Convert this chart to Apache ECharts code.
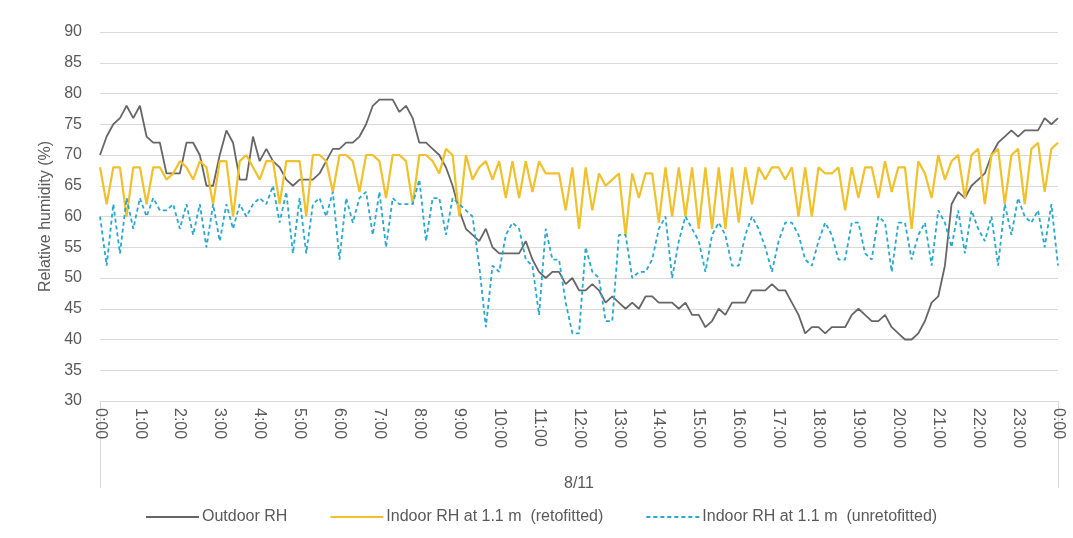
<!DOCTYPE html>
<html>
<head>
<meta charset="utf-8">
<script src="https://cdn.jsdelivr.net/npm/echarts@6/dist/echarts.min.js"></script>
<style>
  html, body { margin: 0; padding: 0; background: #ffffff; }
  #chart { width: 1073px; height: 538px; }
</style>
</head>
<body>
<div id="chart"></div>
<script>
// Relative humidity on 8/11, logged every 10 minutes (0:00 to 24:00)
const dayLabel = '8/11';
const seriesNames = ['Outdoor RH', 'Indoor RH at 1.1 m  (retofitted)', 'Indoor RH at 1.1 m  (unretofitted)'];

const outdoorRH = [
  70, 73, 75, 76, 78, 76, 78, 73, 72, 72,
  67, 67, 67, 72, 72, 70, 65, 65, 70, 74,
  72, 66, 66, 73, 69, 71, 69, 68, 66, 65,
  66, 66, 66, 67, 69, 71, 71, 72, 72, 73,
  75, 78, 79, 79, 79, 77, 78, 76, 72, 72,
  71, 70, 68, 65, 61, 58, 57, 56, 58, 55,
  54, 54, 54, 54, 56, 53, 51, 50, 51, 51,
  49, 50, 48, 48, 49, 48, 46, 47, 46, 45,
  46, 45, 47, 47, 46, 46, 46, 45, 46, 44,
  44, 42, 43, 45, 44, 46, 46, 46, 48, 48,
  48, 49, 48, 48, 46, 44, 41, 42, 42, 41,
  42, 42, 42, 44, 45, 44, 43, 43, 44, 42,
  41, 40, 40, 41, 43, 46, 47, 52, 62, 64,
  63, 65, 66, 67, 70, 72, 73, 74, 73, 74,
  74, 74, 76, 75, 76
];

const indoorRetrofitted = [
  68, 62, 68, 68, 60, 68, 68, 62, 68, 68, 66, 67, 69, 68, 66, 69, 68, 62, 69, 69, 60,
  69, 70, 68, 66, 69, 69, 62, 69, 69, 69, 60, 70, 70, 69, 64, 70, 70, 69, 64, 70, 70,
  69, 63, 70, 70, 69, 62, 70, 70, 69, 67, 71, 70, 60, 70, 66, 68, 69, 66, 69, 63, 69,
  63, 69, 64, 69, 67, 67, 67, 61, 68, 58, 68, 61, 67, 65, 66, 67, 57, 67, 63, 67, 67, 59,
  68, 60, 68, 60, 68, 58, 68, 58, 68, 58, 68, 59, 68, 62, 68, 66, 68, 68, 66, 68, 60,
  68, 60, 68, 67, 67, 68, 61, 68, 63, 68, 68, 63, 69, 64, 68, 68, 58, 69, 67, 63, 70,
  66, 69, 70, 63, 70, 71, 62, 70, 71, 62, 70, 71, 62, 71, 72, 64, 71, 72
];

const indoorUnretrofitted = [
  60, 52, 62, 54, 63, 58, 63, 60, 63, 61, 61, 62, 58, 62, 57, 62, 55, 62, 56, 62, 58,
  62, 60, 62, 63, 62, 65, 59, 64, 54, 63, 54, 62, 63, 60, 64, 53, 63, 59, 63, 64, 57, 64,
  55, 63, 62, 62, 62, 66, 56, 63, 63, 57, 63, 62, 61, 60, 52, 42, 52, 51, 57, 59,
  58, 53, 52, 44, 58, 53, 53, 46, 41, 41, 55, 51, 50, 43, 43, 57, 57, 50, 51, 51, 53, 58,
  60, 50, 56, 60, 58, 56, 51, 57, 59, 57, 52, 52, 57, 60, 58, 55, 51, 56, 59, 59, 57,
  53, 52, 56, 59, 57, 53, 53, 59, 59, 54, 53, 60, 59, 51, 59, 59, 53, 57, 59, 52, 61,
  59, 55, 61, 54, 61, 58, 56, 60, 52, 62, 57, 63, 60, 59, 61, 55, 62, 52
];

// Time-of-day categories, one per reading
const timeLabels = outdoorRH.map(function (_, i) {
  const h = Math.floor(i / 6) % 24;
  const m = (i % 6) * 10;
  return h + ':' + (m < 10 ? '0' + m : m);
});

const FONT = "'Liberation Sans', Arial, sans-serif";
const TEXT = '#595959';
const GRID = '#d9d9d9';

const chart = echarts.init(document.getElementById('chart'), null, { renderer: 'canvas' });

chart.setOption({
  backgroundColor: '#ffffff',
  animation: false,
  textStyle: { fontFamily: FONT, color: TEXT },
  grid: { left: 100, right: 15, top: 32, bottom: 137, containLabel: false },
  legend: {
    left: 140,
    top: 504,
    itemWidth: 53,
    itemHeight: 14,
    itemGap: 42,
    itemStyle: { opacity: 0, color: 'rgba(0,0,0,0)', borderWidth: 0 },
    textStyle: { fontFamily: FONT, fontSize: 16, color: TEXT, padding: [0, 0, 0, -2] },
    data: seriesNames
  },
  xAxis: [
    {
      type: 'category',
      data: timeLabels,
      boundaryGap: false,
      axisLine: { show: true, lineStyle: { color: GRID, width: 1 } },
      axisTick: { show: false },
      splitLine: { show: false },
      axisLabel: {
        interval: 5,
        rotate: -90,
        margin: 7,
        fontFamily: FONT,
        fontSize: 16,
        color: TEXT
      }
    },
    {
      type: 'category',
      data: [dayLabel],
      position: 'bottom',
      boundaryGap: true,
      axisLine: { show: false },
      axisTick: { show: true, length: 87, lineStyle: { color: GRID, width: 1 } },
      axisLabel: { margin: 75, fontFamily: FONT, fontSize: 16, color: TEXT },
      splitLine: { show: false }
    }
  ],
  yAxis: {
    type: 'value',
    min: 30,
    max: 90,
    interval: 5,
    name: 'Relative humidity (%)',
    nameLocation: 'middle',
    nameGap: 45,
    nameRotate: 90,
    nameTextStyle: { fontFamily: FONT, fontSize: 16, color: TEXT },
    axisLine: { show: false },
    axisTick: { show: false },
    axisLabel: { margin: 18, fontFamily: FONT, fontSize: 16, color: TEXT },
    splitLine: { show: true, lineStyle: { color: GRID, width: 1 } }
  },
  series: [
    {
      name: seriesNames[0],
      type: 'line',
      data: outdoorRH,
      symbol: 'none',
      lineStyle: { color: '#666666', width: 1.8 },
      itemStyle: { color: '#666666' }
    },
    {
      name: seriesNames[1],
      type: 'line',
      data: indoorRetrofitted,
      symbol: 'none',
      lineStyle: { color: '#f0c12b', width: 2.2 },
      itemStyle: { color: '#f0c12b' }
    },
    {
      name: seriesNames[2],
      type: 'line',
      data: indoorUnretrofitted,
      symbol: 'none',
      lineStyle: { color: '#27a8cd', width: 1.8, type: [4, 3] },
      itemStyle: { color: '#27a8cd' }
    }
  ]
});
</script>
</body>
</html>
